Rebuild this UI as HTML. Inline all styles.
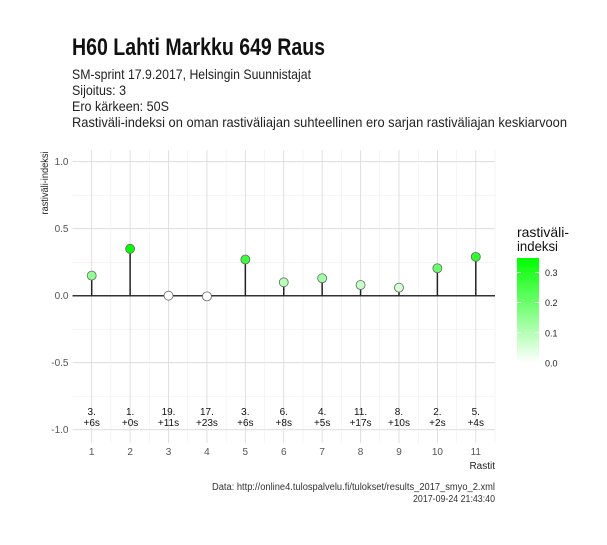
<!DOCTYPE html>
<html><head><meta charset="utf-8"><style>
body{margin:0;background:#fff}
svg text{font-family:"Liberation Sans Narrow","Liberation Sans",sans-serif}
</style></head><body>
<svg id="chart" width="607" height="540" xmlns="http://www.w3.org/2000/svg">
<defs><linearGradient id="lg" x1="0" y1="1" x2="0" y2="0"><stop offset="0" stop-color="#ffffff"/><stop offset="1" stop-color="#00ff00"/></linearGradient></defs>
<text x="72" y="55" font-size="24" font-weight="bold" textLength="253" lengthAdjust="spacingAndGlyphs" fill="#111">H60 Lahti Markku 649 Raus</text>
<text x="72" y="79" font-size="14" textLength="239" lengthAdjust="spacingAndGlyphs" fill="#222">SM-sprint 17.9.2017, Helsingin Suunnistajat</text>
<text x="72" y="95" font-size="14" textLength="54" lengthAdjust="spacingAndGlyphs" fill="#222">Sijoitus: 3</text>
<text x="72" y="111" font-size="14" textLength="97" lengthAdjust="spacingAndGlyphs" fill="#222">Ero kärkeen: 50S</text>
<text x="72" y="127" font-size="14" textLength="495" lengthAdjust="spacingAndGlyphs" fill="#222">Rastiväli-indeksi on oman rastiväliajan suhteellinen ero sarjan rastiväliajan keskiarvoon</text>
<g id="grid"></g>
<g id="marks"></g>
<text transform="translate(48,183) rotate(-90)" text-anchor="middle" font-size="10" textLength="63" lengthAdjust="spacingAndGlyphs" fill="#222">rastiväli-indeksi</text>
<text x="495" y="469" text-anchor="end" font-size="10" fill="#222">Rastit</text>
<g>
<text x="517" y="237" font-size="14" textLength="52" lengthAdjust="spacingAndGlyphs" fill="#111">rastiväli-</text>
<text x="517" y="251" font-size="14" textLength="41" lengthAdjust="spacingAndGlyphs" fill="#111">indeksi</text>
<rect x="517" y="258" width="22" height="105" fill="url(#lg)"/>
<g id="legticks"></g>
</g>
<text x="495" y="490" text-anchor="end" font-size="10" textLength="283" lengthAdjust="spacingAndGlyphs" fill="#333">Data: http://online4.tulospalvelu.fi/tulokset/results_2017_smyo_2.xml</text>
<text x="495" y="502" text-anchor="end" font-size="10" textLength="82" lengthAdjust="spacingAndGlyphs" fill="#333">2017-09-24 21:43:40</text>
</svg>
<script>
const categories=[1,2,3,4,5,6,7,8,9,10,11];
const indexValues=[0.15,0.35,0.0,-0.005,0.27,0.10,0.13,0.08,0.06,0.205,0.29];
const rankLabels=["3.","1.","19.","17.","3.","6.","4.","11.","8.","2.","5."];
const gapLabels=["+6s","+0s","+11s","+23s","+6s","+8s","+5s","+17s","+10s","+2s","+4s"];
const yTicks=[-1.0,-0.5,0.0,0.5,1.0];
const legendTicks=[0.0,0.1,0.2,0.3];
const NS="http://www.w3.org/2000/svg";
const x0=72.5,x1=495,y0=150,y1=443;
const xs=c=>x0+(c-0.5)/11*(x1-x0);
const ys=v=>295.7-v*134;
const cmax=0.35;
const col=v=>{let t=Math.max(0,Math.min(1,v/cmax));const r=Math.round(255*(1-t)),b=r;return `rgb(${r},255,${b})`;};
function mk(tag,attrs,parent){const e=document.createElementNS(NS,tag);for(const k in attrs)e.setAttribute(k,attrs[k]);parent.appendChild(e);return e;}
const grid=document.getElementById('grid'),marks=document.getElementById('marks'),lt=document.getElementById('legticks');
for(let i=0;i<yTicks.length;i++){const y=ys(yTicks[i]);
 const l=mk('line',{x1:x0,x2:x1,y1:y,y2:y,stroke:'#d9d9d9','stroke-width':0.8},grid);
 
 if(i<yTicks.length-1){const m=ys((yTicks[i]+yTicks[i+1])/2);const l2=mk('line',{x1:x0,x2:x1,y1:m,y2:m,stroke:'#ececec','stroke-width':0.5},grid);}
 const t=mk('text',{x:x0-4,y:y+3.5,'text-anchor':'end','font-size':10,fill:'#555'},grid);t.textContent=yTicks[i].toFixed(1);
 }
for(let i=0;i<categories.length;i++){const x=xs(categories[i]);
 const l=mk('line',{x1:x,x2:x,y1:y0,y2:y1,stroke:'#d9d9d9','stroke-width':0.8},grid);
 const m=xs(categories[i]+0.5);const l2=mk('line',{x1:m,x2:m,y1:y0,y2:y1,stroke:'#ececec','stroke-width':0.5},grid);
 const t=mk('text',{x:x,y:455,'text-anchor':'middle','font-size':10,fill:'#555'},grid);t.textContent=categories[i];}
const zl=mk('line',{x1:x0,x2:x1,y1:ys(0),y2:ys(0),stroke:'#333','stroke-width':1.5},marks);
for(let i=0;i<categories.length;i++){const x=xs(categories[i]),y=ys(indexValues[i]);
 const s=mk('line',{x1:x,x2:x,y1:ys(0),y2:y,stroke:'#222','stroke-width':1.5},marks);
 const c=mk('circle',{cx:x,cy:y,r:4.5,fill:col(indexValues[i]),stroke:'#666','stroke-width':0.8},marks);
 const t1=mk('text',{x:x,y:415,'text-anchor':'middle','font-size':10,fill:'#111'},marks);t1.textContent=rankLabels[i];
 const t2=mk('text',{x:x,y:426,'text-anchor':'middle','font-size':10,fill:'#111'},marks);t2.textContent=gapLabels[i];}
for(const v of legendTicks){const y=363-v/0.1*30.2;
 const t=mk('text',{x:545,y:y+3.5,'font-size':9,fill:'#222'},lt);t.textContent=v.toFixed(1);
 if(v>0){const a=mk('line',{x1:517,x2:521,y1:y,y2:y,stroke:'#fff','stroke-width':0.8},lt);const b=mk('line',{x1:535,x2:539,y1:y,y2:y,stroke:'#fff','stroke-width':0.8},lt);}}
</script>
</body></html>
